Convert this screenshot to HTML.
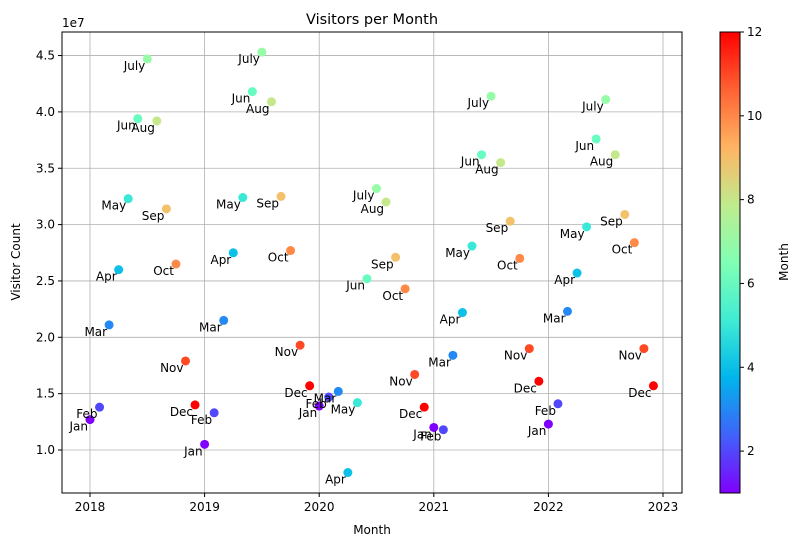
<!DOCTYPE html>
<html><head><meta charset="utf-8">
<style>
body{margin:0;background:#fff;font-family:"Liberation Sans","DejaVu Sans",sans-serif;}
svg text{font-family:"DejaVu Sans","Liberation Sans",sans-serif;}
</style></head>
<body>
<svg id="chart" width="800" height="547" xmlns="http://www.w3.org/2000/svg">
<defs>
<linearGradient id="cbar" x1="0" y1="1" x2="0" y2="0">
<stop offset="0" stop-color="#8000ff"/><stop offset="0.125" stop-color="#4062fa"/><stop offset="0.25" stop-color="#00b5eb"/><stop offset="0.375" stop-color="#40ecd4"/><stop offset="0.5" stop-color="#80ffb4"/><stop offset="0.625" stop-color="#c0eb8d"/><stop offset="0.75" stop-color="#ffb462"/><stop offset="0.875" stop-color="#ff6232"/><stop offset="1" stop-color="#ff0000"/>
</linearGradient>
</defs>
<g id="grid"></g>
<g id="points"></g>
<rect x="62" y="32" width="620" height="461" fill="none" stroke="#000" stroke-width="1"/>
<text x="372" y="24" font-size="14.5" text-anchor="middle">Visitors per Month</text>
<text x="372" y="534" font-size="12" text-anchor="middle">Month</text>
<text transform="translate(20,262) rotate(-90)" font-size="12" text-anchor="middle">Visitor Count</text>
<text x="62" y="27" font-size="12">1e7</text>
<rect x="720" y="32" width="20" height="461" fill="url(#cbar)" stroke="#000" stroke-width="1"/>
<text transform="translate(788,262) rotate(-90)" font-size="12" text-anchor="middle">Month</text>
<g id="cbticks"></g>
</svg>
<script>
const years = [2018, 2019, 2020, 2021, 2022];
const monthNames = ["Jan","Feb","Mar","Apr","May","Jun","July","Aug","Sep","Oct","Nov","Dec"];
const visitors2018 = [1.27,1.38,2.11,2.60,3.23,3.94,4.47,3.92,3.14,2.65,1.79,1.40];
const visitors2019 = [1.05,1.33,2.15,2.75,3.24,4.18,4.53,4.09,3.25,2.77,1.93,1.57];
const visitors2020 = [1.39,1.47,1.52,0.80,1.42,2.52,3.32,3.20,2.71,2.43,1.67,1.38];
const visitors2021 = [1.20,1.18,1.84,2.22,2.81,3.62,4.14,3.55,3.03,2.70,1.90,1.61];
const visitors2022 = [1.23,1.41,2.23,2.57,2.98,3.76,4.11,3.62,3.09,2.84,1.90,1.57];
const xTicks = [2018,2019,2020,2021,2022,2023];
const yTicks = [1.0,1.5,2.0,2.5,3.0,3.5,4.0,4.5];
const cbTicks = [2,4,6,8,10,12];
const series = [visitors2018,visitors2019,visitors2020,visitors2021,visitors2022];

const NS="http://www.w3.org/2000/svg";
const xs = t => 90 + (t-2018)*114.6;
const ys = v => 450 - (v-1.0)*112.7;
const cy = m => 493 - (m-1)/11*461;
function rainbow(m){const x=(m-1)/11;const c=v=>Math.round(Math.max(0,Math.min(1,v))*255);
 return `rgb(${c(Math.abs(2*x-0.5))},${c(Math.sin(Math.PI*x))},${c(Math.cos(Math.PI*x/2))})`;}
function mk(tag,attrs,parent,text){const e=document.createElementNS(NS,tag);for(const k in attrs)e.setAttribute(k,attrs[k]);if(text!==undefined)e.textContent=text;parent.appendChild(e);return e;}
const grid=document.getElementById('grid'),pts=document.getElementById('points'),cbt=document.getElementById('cbticks');
xTicks.forEach(t=>{const x=xs(t);
 const l=mk('line',{x1:x,x2:x,y1:32,y2:493,stroke:'#b0b0b0','stroke-width':0.8},grid);
 
 
 mk('line',{x1:x,x2:x,y1:493,y2:497,stroke:'#000'},grid);
 const tx=mk('text',{x:x,y:511,'font-size':12,'text-anchor':'middle'},grid,String(t));
 
 
});
yTicks.forEach(t=>{const y=ys(t);
 const l=mk('line',{x1:62,x2:682,y1:y,y2:y,stroke:'#b0b0b0','stroke-width':0.8},grid);
 
 
 mk('line',{x1:58,x2:62,y1:y,y2:y,stroke:'#000'},grid);
 const tx=mk('text',{x:55,y:y+4,'font-size':12,'text-anchor':'end'},grid,t.toFixed(1));
 
 
});
cbTicks.forEach(t=>{const y=cy(t);
 mk('line',{x1:740,x2:744,y1:y,y2:y,stroke:'#000'},cbt);
 const tx=mk('text',{x:747,y:y+4,'font-size':12},cbt,String(t));
 
 
});
series.forEach((vals,yi)=>{vals.forEach((v,mi)=>{
 const x=xs(years[yi]+mi/12),y=ys(v);
 const c=mk('circle',{cx:x,cy:y,r:4.5,fill:rainbow(mi+1)},pts);
 
 
 const tx=mk('text',{x:x-2,y:y+11,'font-size':12,'text-anchor':'end'},pts,monthNames[mi]);
 
 
});});
</script>
</body></html>
